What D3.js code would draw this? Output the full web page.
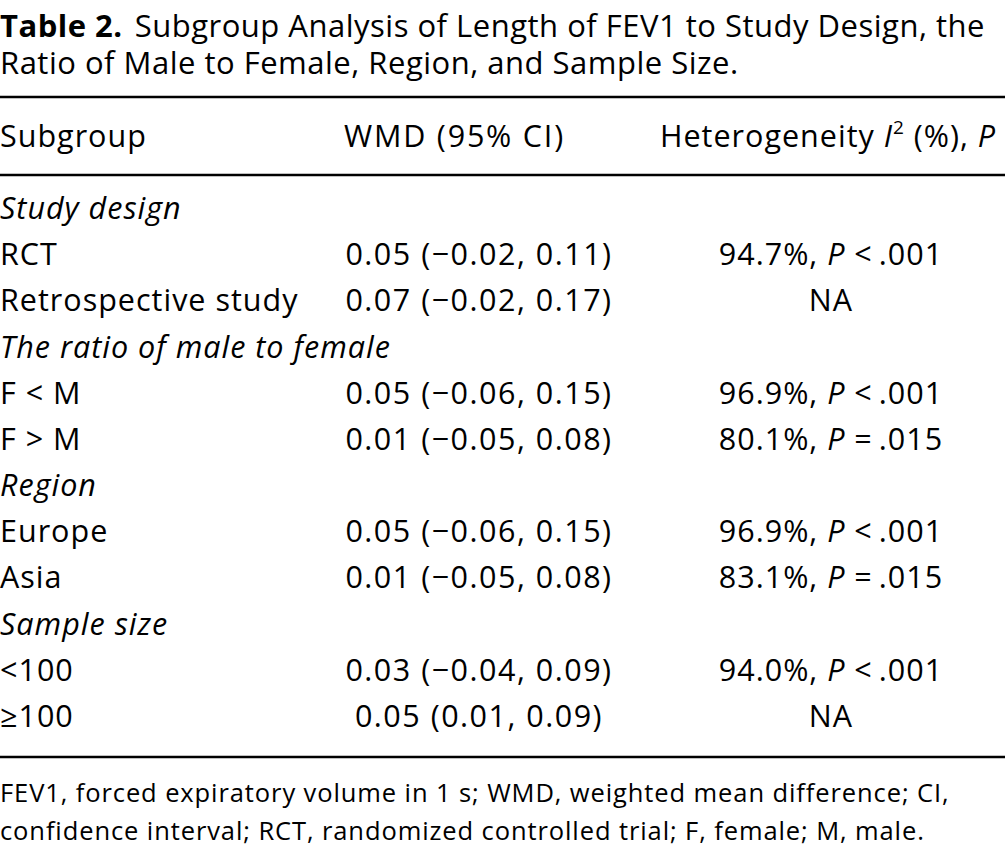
<!DOCTYPE html>
<html><head><meta charset="utf-8">
<script src="https://cdn.jsdelivr.net/npm/d3@7"></script>
<style>html,body{margin:0;padding:0;background:#fff;overflow:hidden}</style>
</head><body>
<script>
const titleLabel = "Table 2.";
const titleLine1 = "Subgroup Analysis of Length of FEV1 to Study Design, the";
const titleLine2 = "Ratio of Male to Female, Region, and Sample Size.";
const columnHeaders = ["Subgroup", "WMD (95% CI)", "Heterogeneity"];
const rowLabels = ["Study design", "RCT", "Retrospective study", "The ratio of male to female", "F < M", "F > M", "Region", "Europe", "Asia", "Sample size", "<100", "\u2265100"];
const rowIsGroup = [true, false, false, true, false, false, true, false, false, true, false, false];
const wmdValues = [null, "0.05 (\u22120.02, 0.11)", "0.07 (\u22120.02, 0.17)", null, "0.05 (\u22120.06, 0.15)", "0.01 (\u22120.05, 0.08)", null, "0.05 (\u22120.06, 0.15)", "0.01 (\u22120.05, 0.08)", null, "0.03 (\u22120.04, 0.09)", "0.05 (0.01, 0.09)"];
const i2Values = [null, "94.7%", "NA", null, "96.9%", "80.1%", null, "96.9%", "83.1%", null, "94.0%", "NA"];
const pValues = [null, "< .001", null, null, "< .001", "= .015", null, "< .001", "= .015", null, "< .001", null];
const footnotes = ["FEV1, forced expiratory volume in 1 s; WMD, weighted mean difference; CI,", "confidence interval; RCT, randomized controlled trial; F, female; M, male."];

const W = 1005, H = 849;
const FONT = "'Open Sans', sans-serif";
const FS = 30.5;
const svg = d3.select("body").append("svg").attr("width", W).attr("height", H)
  .style("font-family", FONT).style("font-size", FS + "px")
  .style("letter-spacing", "1px").attr("fill", "#000");

// title
const t1 = svg.append("text").attr("x", 0).attr("y", 37).style("font-size", "31px").style("letter-spacing", "0.5px");
t1.append("tspan").attr("font-weight", "bold").text(titleLabel);
t1.append("tspan").attr("dx", 12).text(titleLine1);
svg.append("text").attr("x", 0).attr("y", 74).style("font-size", "31px").style("letter-spacing", "0.5px").text(titleLine2);

// rules
const ruleY = [97, 175, 757];
svg.selectAll("line.rule").data(ruleY).join("line").attr("class", "rule")
  .attr("x1", 0).attr("x2", W).attr("y1", d => d).attr("y2", d => d)
  .attr("stroke", "#000").attr("stroke-width", 2.5);

// header
const hy = 147;
svg.append("text").attr("x", 0).attr("y", hy).text(columnHeaders[0]);
svg.append("text").attr("x", 344).attr("y", hy).style("letter-spacing", "1.8px").text(columnHeaders[1]);
const h3 = svg.append("text").attr("x", 660).attr("y", hy);
h3.append("tspan").text(columnHeaders[2] + " ");
h3.append("tspan").attr("font-style", "italic").text("I");
h3.append("tspan").attr("font-size", "19px").attr("dy", -13).text("2");
h3.append("tspan").attr("dy", 13).text(" (%), ");
h3.append("tspan").attr("font-style", "italic").text("P");

// rows
const y = d3.scalePoint().domain(d3.range(rowLabels.length)).range([219, 727]);
const rows = svg.selectAll("g.row").data(rowLabels.map((l, i) => ({
  label: l, group: rowIsGroup[i], wmd: wmdValues[i], i2: i2Values[i], p: pValues[i], i
}))).join("g").attr("class", "row").attr("transform", d => `translate(0,${y(d.i)})`);

rows.append("text").attr("x", 0)
  .attr("font-style", d => d.group ? "italic" : null)
  .text(d => d.label);

rows.filter(d => d.wmd).append("text").attr("x", 479).attr("text-anchor", "middle")
  .style("letter-spacing", "1.5px").text(d => d.wmd);

const het = rows.filter(d => d.i2).append("text").attr("x", 831).attr("text-anchor", "middle");
het.append("tspan").text(d => d.p ? d.i2 + ", " : d.i2);
het.filter(d => d.p).append("tspan").attr("font-style", "italic").text("P");
het.filter(d => d.p).append("tspan").text(d => " " + d.p.replace(" ", "\u2009"));

// footnotes
svg.selectAll("text.foot").data(footnotes).join("text").attr("class", "foot")
  .attr("x", 0).attr("y", (d, i) => 802 + i * 38).style("font-size", "25.5px").style("letter-spacing", "0.9px").text(d => d);
</script>
</body></html>
